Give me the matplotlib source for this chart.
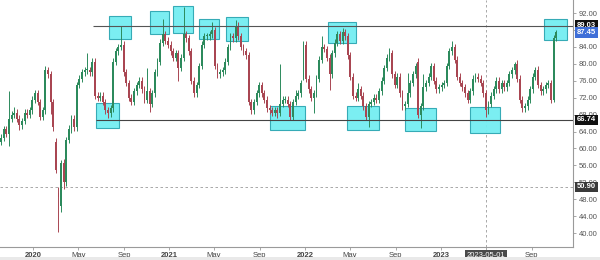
import matplotlib
matplotlib.use('Agg')
import matplotlib.pyplot as plt
import matplotlib.dates as mdates
from matplotlib.patches import Rectangle
import pandas as pd

# ---------------- data (weekly candles) ----------------
first_week = '2019-10-07'

opens = [
    61.5, 62.5, 64.5, 63.5, 67, 68, 68.5, 67, 65.5, 66.5,
    68.5, 68, 69, 71.5, 73, 71, 67.5, 69, 78.5, 77.5,
    71, 61.5, 49.5, 46.5, 56.5, 52, 62, 64.5, 67, 65,
    75, 76.5, 78, 78.5, 78.5, 78, 80.5, 72.5, 72, 72.5,
    71, 69, 68.3, 69.5, 80.5, 83, 84, 84.5, 78, 75.5,
    72, 71, 73.5, 75, 76, 74, 71.5, 73.5, 70.5, 73,
    78, 80.5, 85, 87, 85.5, 84.5, 83, 81.5, 82.5, 79,
    81.5, 87, 86, 83, 76, 73, 75, 79.5, 84.5, 86.5,
    86.5, 87, 88, 79.5, 77.5, 78, 78.5, 80.5, 84, 86.5,
    86, 89, 86.5, 84, 83, 82, 71, 69, 71, 73,
    75, 73, 71.5, 69.5, 69, 68.5, 69, 68.5, 70.5, 71.5,
    71.5, 70.5, 67.5, 71, 72.5, 73, 77, 84.5, 76.5, 74,
    72, 73, 76.5, 81, 84, 83.5, 81.5, 77.5, 82.5, 85,
    87, 85.5, 87.5, 86.5, 82, 77, 72.5, 72, 74, 72.5,
    70, 67.5, 70.5, 71, 72, 71.5, 73.5, 76, 79, 81.5,
    82.5, 77.5, 75, 77, 73, 70, 70.5, 73, 75.5, 77.5,
    80.5, 68, 70, 74.5, 75.5, 77, 79.5, 76, 74, 74.5,
    75, 75.5, 79.5, 83, 84, 81, 77, 75.5, 74.5, 73,
    71.5, 73.5, 76.5, 77, 76.5, 75.5, 73, 69, 70.5, 72.5,
    74, 76, 74, 75.5, 74.5, 75.5, 77.5, 78.5, 80, 76.5,
    71.5, 69.5, 70, 71.5, 74, 77, 78.5, 75, 73.5, 74,
    75, 75.5, 71.5, 86,
]

closes = [
    62.5, 64.5, 63.5, 67, 68, 68.5, 67, 65.5, 66.5, 68.5,
    68, 69, 71.5, 73, 71, 67.5, 69, 78.5, 77.5, 71,
    65, 55, 48.5, 56.5, 52, 62, 64.5, 67, 65, 75,
    76.5, 78, 78.5, 78.5, 78, 80.5, 72.5, 72, 72.5, 71,
    69, 68.3, 69.5, 80.5, 83, 84, 84.5, 78, 75.5, 72,
    71, 73.5, 75, 76, 74, 71.5, 73.5, 70.5, 73, 78,
    80.5, 85, 87, 85.5, 84.5, 83, 81.5, 82.5, 79, 81.5,
    87, 86, 83, 76, 73, 75, 79.5, 84.5, 86.5, 86.5,
    87, 88, 79.5, 77.5, 78, 78.5, 80.5, 84, 86.5, 86,
    89, 86.5, 84, 83, 82, 71, 69, 71, 73, 75,
    73, 71.5, 69.5, 69, 68.5, 69, 68.5, 70.5, 71.5, 71.5,
    70.5, 67.5, 71, 72.5, 73, 75.5, 84.5, 76.5, 74, 72,
    73, 76.5, 81, 84, 83.5, 81.5, 77.5, 82.5, 85, 87,
    85.5, 87.5, 86.5, 82, 77, 72.5, 72, 74, 72.5, 70,
    67.5, 70.5, 71, 72, 71.5, 73.5, 76, 79, 81.5, 82.5,
    77.5, 75, 77, 73, 70, 70.5, 73, 75.5, 77.5, 79.5,
    68, 70, 74.5, 75.5, 77, 79.5, 76, 74, 74.5, 75,
    75.5, 79.5, 83, 84, 81, 77, 75.5, 74.5, 73, 71.5,
    73.5, 76.5, 77, 76.5, 75.5, 73, 69, 70.5, 72.5, 74,
    76, 74, 75.5, 74.5, 75.5, 77.5, 78.5, 80, 76.5, 71.5,
    69.5, 70, 71.5, 74, 77, 78.5, 75, 73.5, 74, 75,
    75.5, 71.5, 86, 87.45,
]

highs = [
    63.3, 65.3, 65.3, 73.5, 68.8, 69.8, 69.3, 67.8, 67.3, 69.3,
    69.3, 69.8, 72.3, 73.8, 73.8, 71.8, 69.8, 79.5, 79.3, 78.3,
    71.8, 62.5, 51.0, 57.3, 57.5, 62.8, 65.5, 67.8, 67.8, 75.8,
    77.3, 78.8, 79.3, 82.6, 79.3, 81.3, 81.3, 73.3, 73.3, 73.3,
    71.8, 69.8, 70.3, 81.3, 83.8, 84.8, 89.0, 85.3, 78.8, 76.3,
    72.8, 74.3, 75.8, 76.8, 76.8, 74.8, 79.0, 74.3, 73.8, 78.8,
    81.3, 85.8, 90.5, 87.8, 86.3, 85.3, 83.8, 83.3, 83.3, 82.3,
    93.5, 87.8, 86.8, 83.8, 76.8, 75.8, 80.3, 85.3, 87.3, 87.3,
    87.8, 89.8, 88.8, 80.3, 78.8, 79.3, 81.3, 84.8, 87.3, 87.3,
    90.4, 89.8, 87.3, 84.8, 83.8, 82.8, 71.8, 71.8, 73.8, 75.8,
    75.8, 73.8, 72.3, 70.3, 69.8, 69.8, 69.8, 80.0, 72.3, 72.3,
    72.3, 71.3, 71.8, 73.8, 73.8, 76.3, 85.3, 85.3, 77.3, 74.8,
    73.8, 77.3, 81.8, 86.5, 84.8, 84.3, 82.3, 83.3, 85.8, 87.8,
    87.8, 88.5, 88.3, 87.3, 82.8, 77.8, 73.3, 75.5, 74.8, 73.3,
    70.8, 71.3, 71.8, 72.8, 72.8, 74.3, 76.8, 79.8, 82.3, 83.7,
    83.3, 78.3, 77.8, 77.8, 73.8, 71.3, 77.9, 76.3, 78.3, 80.3,
    81.3, 70.8, 77.7, 76.3, 77.8, 80.3, 80.3, 76.8, 75.3, 75.8,
    76.3, 80.3, 83.8, 85.5, 84.8, 81.8, 77.8, 76.3, 75.3, 73.8,
    74.3, 77.3, 77.8, 77.8, 77.3, 76.3, 73.8, 71.3, 73.3, 74.8,
    76.8, 76.8, 76.3, 76.3, 76.3, 78.3, 79.3, 80.5, 80.8, 77.3,
    72.3, 70.8, 72.3, 74.8, 77.8, 79.3, 79.5, 75.8, 74.8, 75.8,
    76.3, 76.3, 86.8, 88.0,
]

lows = [
    60.7, 61.7, 62.7, 60.5, 66.2, 67.2, 66.2, 64.3, 64.7, 65.7,
    67.2, 67.2, 68.2, 70.7, 70.2, 66.7, 66.7, 68.2, 76.7, 68.2,
    64.2, 54.2, 40.2, 45.0, 50.5, 51.2, 61.2, 63.7, 64.2, 64.2,
    74.2, 75.7, 77.2, 77.7, 77.2, 77.2, 71.7, 71.2, 71.2, 70.2,
    68.2, 67.3, 67.5, 68.7, 79.7, 82.2, 83.2, 77.2, 74.7, 71.2,
    70.2, 70.2, 72.7, 74.2, 73.2, 70.7, 70.7, 68.6, 69.7, 72.2,
    77.2, 79.7, 84.2, 84.7, 83.7, 82.2, 80.7, 80.7, 76.0, 78.2,
    80.7, 85.2, 82.2, 75.2, 72.2, 72.2, 74.2, 78.7, 83.7, 85.7,
    85.7, 86.2, 78.7, 76.7, 76.7, 77.2, 77.7, 79.7, 83.2, 85.2,
    85.2, 85.7, 83.2, 82.2, 81.2, 70.2, 68.2, 68.2, 70.2, 72.2,
    72.2, 70.7, 68.7, 68.2, 67.7, 67.7, 67.2, 67.7, 69.7, 70.7,
    69.7, 66.7, 66.7, 70.2, 71.7, 72.2, 76.2, 75.7, 73.2, 71.2,
    68.3, 72.2, 75.7, 80.2, 82.7, 80.7, 73.8, 76.7, 81.7, 84.2,
    84.7, 84.7, 85.7, 81.2, 76.2, 71.7, 71.2, 71.2, 71.7, 69.2,
    66.7, 65.0, 69.7, 70.2, 70.7, 70.7, 72.7, 75.2, 78.2, 80.7,
    76.7, 74.2, 74.2, 72.2, 69.2, 69.2, 69.7, 72.2, 74.7, 76.7,
    67.2, 64.8, 69.2, 73.7, 74.7, 76.2, 75.2, 73.2, 73.2, 73.7,
    74.2, 74.7, 78.7, 82.2, 80.2, 76.2, 74.7, 73.7, 72.2, 70.7,
    70.7, 72.7, 75.7, 75.7, 74.7, 72.2, 67.4, 68.2, 69.7, 71.7,
    73.2, 73.2, 73.2, 73.7, 73.7, 74.7, 76.7, 77.7, 75.7, 70.7,
    68.7, 68.7, 69.2, 70.7, 73.2, 76.2, 74.2, 72.7, 72.7, 73.2,
    74.2, 70.7, 71.0, 85.5,
]

# highlighted zones (start, end, low, high)
zone_starts = ['2020-07-22', '2020-11-10', '2021-01-11', '2021-03-22', '2021-06-02',
               '2022-03-03', '2023-10-04',
               '2020-06-18', '2021-09-29', '2022-04-23', '2022-09-25', '2023-03-19']
zone_ends = ['2020-09-21', '2020-12-30', '2021-03-05', '2021-05-13', '2021-07-30',
             '2022-05-16', '2023-12-06',
             '2020-08-18', '2022-01-01', '2022-07-18', '2022-12-19', '2023-06-08']
zone_lows = [85.8, 87.1, 87.4, 85.8, 85.5, 84.9, 85.7, 64.8, 64.4, 64.4, 64.2, 63.7]
zone_highs = [91.3, 92.6, 93.7, 90.6, 91.0, 89.8, 90.6, 70.7, 70.0, 70.0, 69.5, 69.8]

resistance = 89.03
resistance_start = '2020-06-09'
support = 66.74
support_start = '2020-06-18'
cross_price = 50.90
cross_date = '2023-05-01'
last_price = 87.45

tick_dates = ['2020-01-01', '2020-05-01', '2020-09-01', '2021-01-01', '2021-05-01',
              '2021-09-01', '2022-01-01', '2022-05-01', '2022-09-01', '2023-01-01',
              '2023-05-01', '2023-09-01']
tick_labels = ['2020', 'May', 'Sep', '2021', 'May', 'Sep', '2022', 'May', 'Sep',
               '2023', '2023-05-01', 'Sep']
y_ticks = [40, 44, 48, 52, 56, 60, 64, 68, 72, 76, 80, 84, 88, 92]
hidden_y_ticks = [88]   # covered by the price tags in the reference

# ---------------- drawing ----------------
plt.rcParams['font.family'] = ['Liberation Sans', 'DejaVu Sans']
fig = plt.figure(figsize=(6.0, 2.6), dpi=100)
fig.patches.append(Rectangle((0, 0), 1, 3 / 260, transform=fig.transFigure,
                             facecolor='#e9e9e9', edgecolor='none'))
ax = fig.add_axes([0.0, 13 / 260, 573 / 600, 247 / 260])

dates = pd.date_range(first_week, periods=len(closes), freq='7D')
xs = mdates.date2num(dates.to_pydatetime())
up_c, dn_c = '#2c8a5c', '#a94652'
colors = [up_c if c >= o else dn_c for o, c in zip(opens, closes)]
bottoms = [min(o, c) for o, c in zip(opens, closes)]
heights = [max(abs(c - o), 0.25) for o, c in zip(opens, closes)]

# zones
for s, e, lo, hi in zip(zone_starts, zone_ends, zone_lows, zone_highs):
    x0 = mdates.date2num(pd.Timestamp(s))
    x1 = mdates.date2num(pd.Timestamp(e))
    ax.add_patch(Rectangle((x0, lo), x1 - x0, hi - lo, facecolor='#74eef2',
                           edgecolor='#2fa7b3', lw=0.8, zorder=2, alpha=0.95))

ax.vlines(xs, lows, highs, colors=colors, lw=0.7, zorder=3)
ax.bar(xs, heights, bottom=bottoms, width=5.0, color=colors, zorder=4, lw=0)

xmin = mdates.date2num(pd.Timestamp('2019-10-04'))
xmax = mdates.date2num(pd.Timestamp('2023-12-21'))
ax.set_xlim(xmin, xmax)
ax.set_ylim(36.7, 95.1)

ax.hlines(resistance, mdates.date2num(pd.Timestamp(resistance_start)), xmax,
          colors='#555555', lw=0.8, zorder=5)
ax.hlines(support, mdates.date2num(pd.Timestamp(support_start)), xmax,
          colors='#444444', lw=0.8, zorder=5)
ax.axhline(cross_price, color='#9a9a9a', lw=0.6, ls=(0, (3, 3)), zorder=1)
ax.axvline(mdates.date2num(pd.Timestamp(cross_date)), color='#9a9a9a', lw=0.6,
           ls=(0, (3, 3)), zorder=1)

for s in ['left', 'top']:
    ax.spines[s].set_visible(False)
for s in ['right', 'bottom']:
    ax.spines[s].set_color('#9a9a9a')
    ax.spines[s].set_linewidth(0.8)

ax.yaxis.tick_right()
ax.set_yticks(y_ticks)
ax.set_yticklabels(['' if v in hidden_y_ticks else f'{v:.2f}' for v in y_ticks])
ax.tick_params(axis='y', labelsize=5.5, colors='#9a9a9a', labelcolor='#555555',
               length=2, width=0.6, pad=2)

ax.set_xticks([mdates.date2num(pd.Timestamp(d)) for d in tick_dates])
ax.set_xticklabels(tick_labels)
ax.tick_params(axis='x', labelsize=5.5, colors='#9a9a9a', labelcolor='#444444',
               length=2, width=0.6, pad=1.5)
for lbl in ax.get_xticklabels():
    if lbl.get_text().isdigit():
        lbl.set_fontweight('bold')
    if lbl.get_text() == cross_date:
        lbl.set_color('white')
        lbl.set_bbox(dict(boxstyle='square,pad=0.25', fc='#4a4a4a', ec='none'))

def price_tag(val, fc):
    ax.annotate(f'{val:.2f}', xy=(1.0, val), xycoords=('axes fraction', 'data'),
                xytext=(2.5, 0), textcoords='offset points', ha='left', va='center',
                fontsize=5.5, color='white', fontweight='bold', zorder=10,
                bbox=dict(boxstyle='square,pad=0.25', fc=fc, ec='none'),
                annotation_clip=False)

price_tag(resistance, '#111111')
price_tag(last_price, '#3f6fd8')
price_tag(support, '#111111')
price_tag(cross_price, '#3a3a3a')

fig.savefig('out.png', dpi=100)
